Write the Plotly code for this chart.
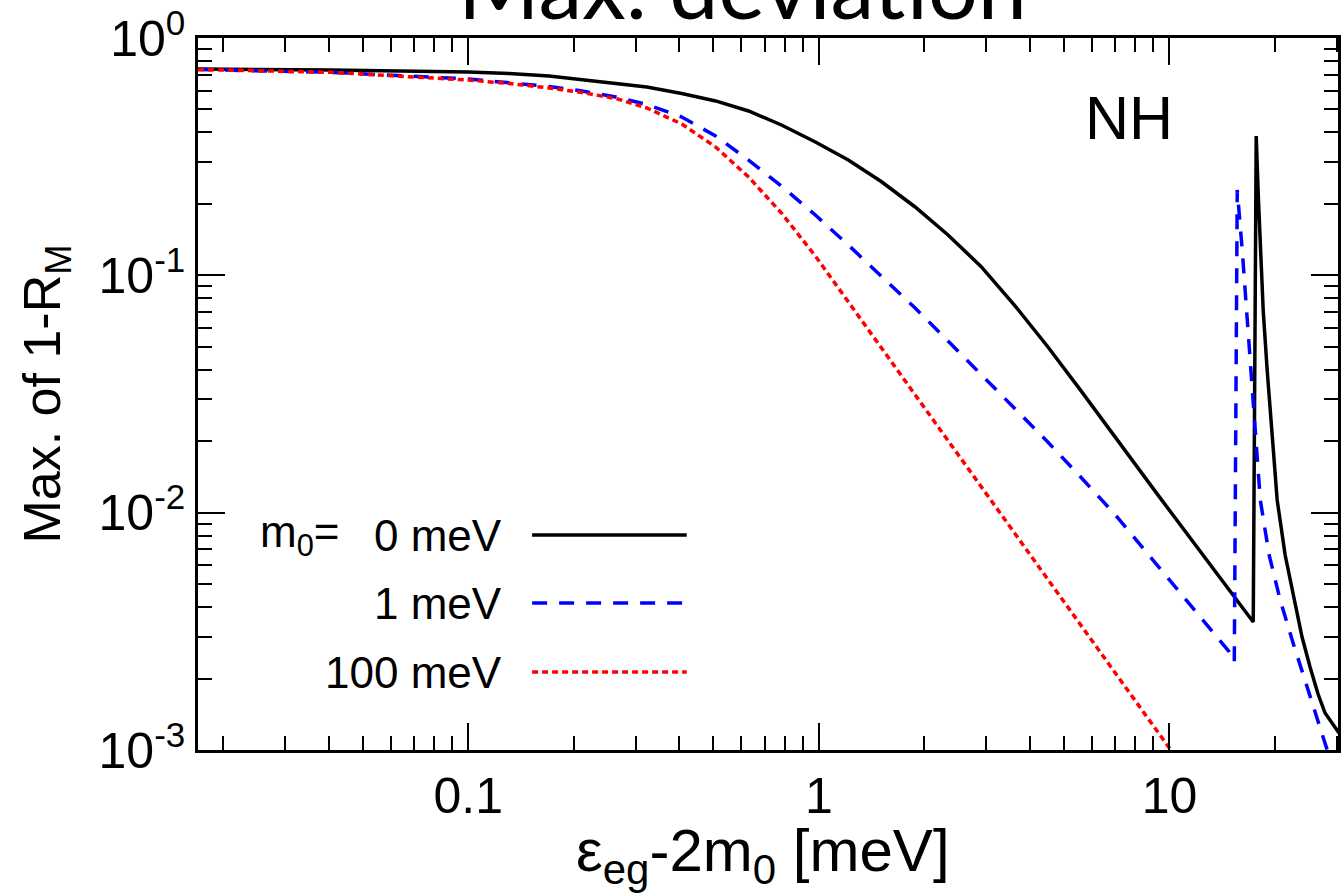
import plotly.graph_objects as go

# ---------------- data ----------------
x_m0 = [0.01694, 0.0405, 0.1, 0.1308, 0.170, 0.2110, 0.2637, 0.3230, 0.4063, 0.5076,
        0.6301, 0.7821, 0.9772, 1.2132, 1.506, 1.882, 2.336, 2.900, 3.622, 4.497, 5.582,
        6.975, 9.245, 17.34, 17.68, 17.92, 18.16, 18.51, 19.00, 19.51, 20.29, 21.38,
        22.68, 23.89, 25.18, 26.54, 27.79, 30.45]
y_m0 = [0.740, 0.733, 0.719, 0.7085, 0.6916, 0.6687, 0.6463, 0.6216, 0.5836, 0.543,
        0.4925, 0.430, 0.3646, 0.306, 0.2485, 0.1941, 0.1479, 0.1090, 0.0746, 0.0500,
        0.03274, 0.02098, 0.01194, 0.003461, 0.3864, 0.2181, 0.1278, 0.0714, 0.0399,
        0.02341, 0.01131, 0.00663, 0.00429, 0.002993, 0.002237, 0.001721, 0.001432,
        0.001179]

x_m1 = [0.01694, 0.0405, 0.1, 0.1308, 0.170, 0.2110, 0.2637, 0.3230, 0.4063, 0.5076,
        0.6301, 0.7821, 0.9772, 1.2132, 1.506, 1.882, 2.336, 2.900, 3.622, 4.497, 5.582,
        6.975, 8.77, 11.40, 14.82, 15.31, 15.61, 16.13, 16.67, 17.22, 17.68, 18.16,
        19.25, 20.69, 22.39, 24.22, 26.03, 28.15, 28.9]
y_m1 = [0.7366, 0.717, 0.672, 0.6494, 0.6246, 0.5979, 0.5641, 0.5246, 0.4647, 0.3864,
        0.306, 0.2378, 0.1795, 0.1342, 0.0994, 0.0728, 0.0529, 0.0384, 0.0276, 0.01985,
        0.01413, 0.00987, 0.00657, 0.00412, 0.002588, 0.002348, 0.229, 0.1278, 0.0648,
        0.0329, 0.01837, 0.01131, 0.00663, 0.00429, 0.002907, 0.002030, 0.001432, 0.001,
        0.00089]

x_m100 = [0.01694, 0.0405, 0.1, 0.1308, 0.170, 0.2110, 0.2637, 0.3230, 0.4063, 0.5076,
          0.6301, 0.7821, 0.9772, 1.2132, 1.506, 1.882, 2.336, 2.900, 4.497, 6.975, 8.65,
          10.0, 10.54]
y_m100 = [0.7366, 0.717, 0.665, 0.6431, 0.6157, 0.5894, 0.5560, 0.5072, 0.4342, 0.3473,
          0.2597, 0.1830, 0.1206, 0.0772, 0.04945, 0.0313, 0.02010, 0.01290, 0.00524,
          0.002131, 0.001368, 0.001017, 0.000914]

legend_labels = ["0 meV", "1 meV", "100 meV"]
x_tickvals = [0.1, 1, 10]
x_ticktext = ["0.1", "1", "10"]
y_tickvals = [1, 0.1, 0.01, 0.001]
y_ticktext = ["10<sup>0</sup>", "10<sup>-1</sup>", "10<sup>-2</sup>", "10<sup>-3</sup>"]

# ---------------- styles ----------------
FONT = "Liberation Sans, Arial, Helvetica, sans-serif"
styles = [dict(color="black", width=3.5, dash="solid"),
          dict(color="#0000ff", width=3.5, dash="15px,12px"),
          dict(color="#ff0000", width=3.5, dash="6px,4px")]

fig = go.Figure()
for xs, ys, st, name in zip([x_m0, x_m1, x_m100], [y_m0, y_m1, y_m100], styles, legend_labels):
    fig.add_trace(go.Scatter(x=xs, y=ys, mode="lines", line=st, name=name,
                             showlegend=False, hoverinfo="skip"))

x_minor = [m * 10 ** e for e in (-2, -1, 0) for m in range(2, 10)] + [20, 30]
y_minor = [m * 10 ** e for e in (-3, -2, -1) for m in range(2, 10)]

axis_common = dict(showline=True, linecolor="black", linewidth=2.5, mirror="ticks",
                   ticks="inside", tickwidth=2, tickcolor="black", ticklen=27,
                   showgrid=False, zeroline=False,
                   tickfont=dict(family=FONT, size=50, color="black"))

fig.update_xaxes(type="log", range=[-1.771, 1.4808], tickmode="array",
                 tickvals=x_tickvals, ticktext=x_ticktext,
                 minor=dict(tickvals=x_minor, ticks="inside", ticklen=14, tickwidth=2,
                            tickcolor="black", showgrid=False),
                 **axis_common)
fig.update_yaxes(type="log", range=[-3, 0], tickmode="array",
                 tickvals=y_tickvals, ticktext=y_ticktext,
                 minor=dict(tickvals=y_minor, ticks="inside", ticklen=14, tickwidth=2,
                            tickcolor="black", showgrid=False),
                 title=dict(text="Max. of 1-R<sub>M</sub>",
                            font=dict(family=FONT, size=52, color="black"), standoff=22),
                 **axis_common)

annotations = [
    dict(text="Max. deviation", xref="paper", yref="paper", x=0.478, y=1.0,
         xanchor="center", yanchor="bottom", yshift=-2, showarrow=False,
         font=dict(family="Lato, sans-serif", size=88, color="black")),
    dict(text="ε<sub>eg</sub>-2m<sub>0</sub> [meV]", xref="paper", yref="paper",
         x=(764 - 198) / 1143, y=(750 - 815) / 712, xanchor="center", yanchor="top",
         showarrow=False, font=dict(family=FONT, size=60, color="black")),
    dict(text="NH", xref="paper", yref="paper", x=(1085 - 198) / 1143, y=(750 - 154) / 712,
         xanchor="left", yanchor="bottom", showarrow=False,
         font=dict(family=FONT, size=61, color="black")),
    dict(text="m<sub>0</sub>=", xref="paper", yref="paper", x=(258 - 198) / 1143,
         y=(750 - 535) / 712, xanchor="left", yanchor="middle", showarrow=False,
         font=dict(family=FONT, size=44, color="black")),
]
legend_y = [535, 603, 672]
shapes = []
for lab, ly, st in zip(legend_labels, legend_y, styles):
    annotations.append(dict(text=lab, xref="paper", yref="paper", x=(505 - 198) / 1143,
                            y=(750 - ly) / 712, xanchor="right", yanchor="middle",
                            showarrow=False, font=dict(family=FONT, size=44, color="black")))
    shapes.append(dict(type="line", xref="paper", yref="paper",
                       x0=(533 - 198) / 1143, x1=(688 - 198) / 1143,
                       y0=(750 - ly) / 712, y1=(750 - ly) / 712, line=st))

fig.update_layout(width=1342, height=893, margin=dict(l=198, r=1, t=38, b=143),
                  paper_bgcolor="white", plot_bgcolor="white",
                  annotations=annotations, shapes=shapes, showlegend=False)

fig.write_html("out.html", config={"displayModeBar": False},
               post_script="document.body.style.margin='0px';")
